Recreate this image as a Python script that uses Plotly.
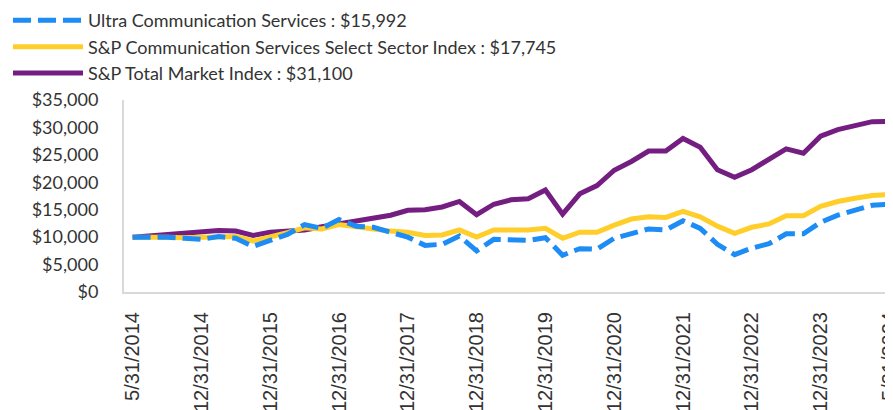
import plotly.graph_objects as go

dates = [
    "5/31/2014", "6/30/2014", "8/31/2014", "9/30/2014", "12/31/2014",
    "3/31/2015", "6/30/2015", "9/30/2015", "12/31/2015",
    "3/31/2016", "6/30/2016", "9/30/2016", "12/31/2016",
    "3/31/2017", "6/30/2017", "9/30/2017", "12/31/2017",
    "3/31/2018", "6/30/2018", "9/30/2018", "12/31/2018",
    "3/31/2019", "6/30/2019", "9/30/2019", "12/31/2019",
    "3/31/2020", "6/30/2020", "9/30/2020", "12/31/2020",
    "3/31/2021", "6/30/2021", "9/30/2021", "12/31/2021",
    "3/31/2022", "6/30/2022", "9/30/2022", "12/31/2022",
    "3/31/2023", "6/30/2023", "9/30/2023", "12/31/2023",
    "1/31/2024", "3/31/2024", "4/30/2024", "5/31/2024",
]

tick_labels = [
    "5/31/2014", "12/31/2014", "12/31/2015", "12/31/2016", "12/31/2017",
    "12/31/2018", "12/31/2019", "12/31/2020", "12/31/2021", "12/31/2022",
    "12/31/2023", "5/31/2024",
]

ultra = [
    10000, 10100, 10000, 9800, 9600, 10100, 9800, 8300, 9500, 10500,
    12300, 11600, 13200, 12000, 11800, 11000, 10000, 8500, 8700, 10200,
    7500, 9600, 9500, 9400, 9900, 6700, 7900, 7800, 9800, 10700,
    11500, 11300, 13000, 11600, 8700, 6800, 8000, 8800, 10600, 10600,
    12700, 14000, 15000, 15800, 15992,
]

sector = [
    10000, 10100, 10000, 9900, 10000, 10100, 10100, 9300, 10000, 10800,
    11700, 11500, 12300, 11800, 11500, 11100, 10900, 10300, 10400, 11300,
    10000, 11300, 11300, 11300, 11600, 9800, 10900, 10900, 12200, 13300,
    13700, 13600, 14700, 13700, 12000, 10700, 11800, 12400, 13900, 13900,
    15600, 16500, 17100, 17600, 17745,
]

total = [
    10000, 10200, 10500, 10800, 11000, 11200, 11100, 10300, 10900, 11100,
    11300, 11900, 12400, 12900, 13400, 14000, 14900, 15000, 15500, 16500,
    14100, 16000, 16800, 17000, 18600, 14200, 17900, 19400, 22200, 23800,
    25700, 25700, 28000, 26400, 22300, 20900, 22300, 24100, 26100, 25300,
    28400, 29600, 30300, 31050, 31100,
]

names = [
    "Ultra Communication Services : $15,992",
    "S&P Communication Services Select Sector Index : $17,745",
    "S&P Total Market Index : $31,100",
]

fig = go.Figure()
fig.add_trace(go.Scatter(x=dates, y=total, mode="lines", name=names[2],
                         line=dict(color="#741E82", width=5)))
fig.add_trace(go.Scatter(x=dates, y=sector, mode="lines", name=names[1],
                         line=dict(color="#FFCE2B", width=5)))
fig.add_trace(go.Scatter(x=dates, y=ultra, mode="lines", name=names[0],
                         line=dict(color="#1E8CF5", width=5, dash="18px,7px")))

fig.update_layout(
    width=893, height=410,
    margin=dict(l=116, r=3, t=92, b=126, autoexpand=False),
    plot_bgcolor="white", paper_bgcolor="white",
    font=dict(family="Lato, sans-serif", size=18, color="#333333"),
    showlegend=True,
    legend=dict(
        xref="container", yref="paper", x=0.0, y=1.51,
        xanchor="left", yanchor="top",
        traceorder="reversed",
        font=dict(family="Lato, sans-serif", size=18, color="#333333"),
        itemwidth=70,
        bgcolor="rgba(0,0,0,0)",
    ),
    xaxis=dict(
        type="category",
        categoryorder="array", categoryarray=dates,
        range=[-0.5, 44.5],
        tickmode="array", tickvals=tick_labels, ticktext=tick_labels,
        tickangle=-90,
        tickfont=dict(family="Liberation Sans, Arial, sans-serif", size=20, color="#333333"),
        showline=True, linecolor="#d9d9d9", linewidth=2,
        showgrid=False, zeroline=False, ticks="", automargin=False,
        ticklabelstandoff=10, ticklabeloverflow="allow",
    ),
    yaxis=dict(
        range=[0, 35000],
        tickvals=[0, 5000, 10000, 15000, 20000, 25000, 30000, 35000],
        tickformat="$,.0f",
        tickfont=dict(family="Lato, sans-serif", size=18, color="#333333"),
        showline=True, linecolor="#d9d9d9", linewidth=2,
        showgrid=False, zeroline=False, ticks="", automargin=False,
        ticklabelstandoff=20,
    ),
)

fig.write_html("out.html")
